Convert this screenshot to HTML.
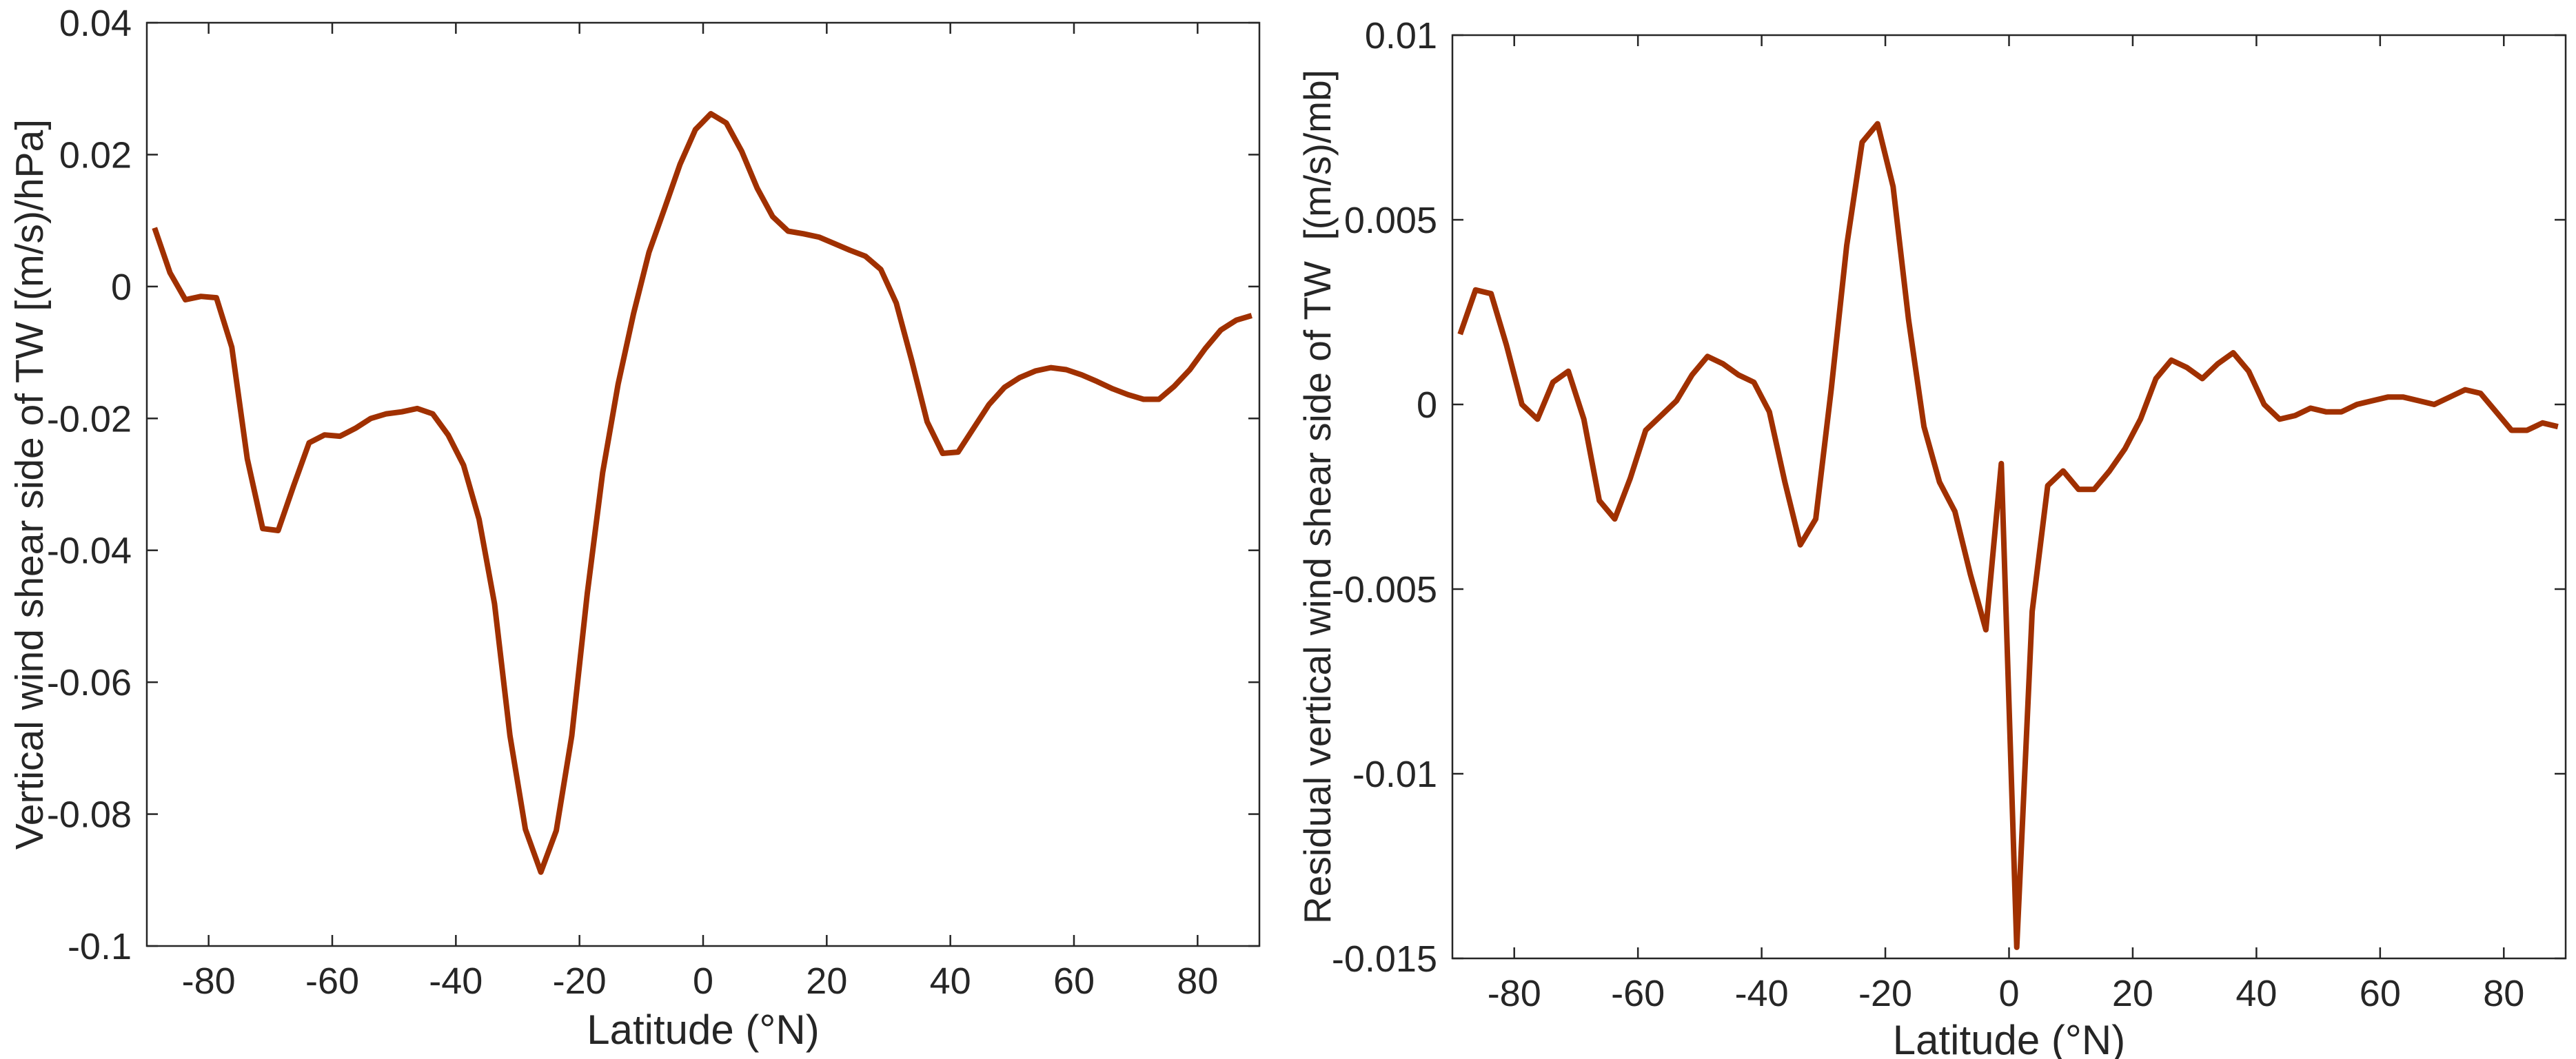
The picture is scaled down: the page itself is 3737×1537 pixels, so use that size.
<!DOCTYPE html>
<html><head><meta charset="utf-8"><style>
html,body{margin:0;padding:0;background:#fff;}
svg{display:block;font-family:"Liberation Sans",Arial,sans-serif;}
</style></head><body>
<svg id="chart" width="3737" height="1537" viewBox="0 0 3737 1537" xmlns="http://www.w3.org/2000/svg"></svg>
<script>
const lats = [-88.75,-86.25,-83.75,-81.25,-78.75,-76.25,-73.75,-71.25,-68.75,-66.25,-63.75,-61.25,-58.75,-56.25,-53.75,-51.25,-48.75,-46.25,-43.75,-41.25,-38.75,-36.25,-33.75,-31.25,-28.75,-26.25,-23.75,-21.25,-18.75,-16.25,-13.75,-11.25,-8.75,-6.25,-3.75,-1.25,1.25,3.75,6.25,8.75,11.25,13.75,16.25,18.75,21.25,23.75,26.25,28.75,31.25,33.75,36.25,38.75,41.25,43.75,46.25,48.75,51.25,53.75,56.25,58.75,61.25,63.75,66.25,68.75,71.25,73.75,76.25,78.75,81.25,83.75,86.25,88.75];
const shearValues = [0.0089,0.0021,-0.0020,-0.0015,-0.0017,-0.0092,-0.0261,-0.0367,-0.0370,-0.0302,-0.0237,-0.0225,-0.0227,-0.0215,-0.0200,-0.0193,-0.0190,-0.0185,-0.0193,-0.0225,-0.0271,-0.0353,-0.0481,-0.0681,-0.0823,-0.0888,-0.0825,-0.0681,-0.0466,-0.0282,-0.0148,-0.0041,0.0052,0.0118,0.0185,0.0238,0.0262,0.0248,0.0205,0.0149,0.0106,0.0084,0.0080,0.0075,0.0065,0.0055,0.0046,0.0026,-0.0025,-0.0112,-0.0205,-0.0253,-0.0251,-0.0215,-0.0179,-0.0153,-0.0138,-0.0128,-0.0123,-0.0126,-0.0134,-0.0144,-0.0155,-0.0164,-0.0171,-0.0171,-0.0151,-0.0126,-0.0094,-0.0066,-0.0051,-0.0044];
const residualValues = [0.0019,0.0031,0.0030,0.0016,0.0000,-0.0004,0.0006,0.0009,-0.0004,-0.0026,-0.0031,-0.0020,-0.0007,-0.0003,0.0001,0.0008,0.0013,0.0011,0.0008,0.0006,-0.0002,-0.0021,-0.0038,-0.0031,0.0004,0.0043,0.0071,0.0076,0.0059,0.0023,-0.0006,-0.0021,-0.0029,-0.0046,-0.0061,-0.0016,-0.0147,-0.0056,-0.0022,-0.0018,-0.0023,-0.0023,-0.0018,-0.0012,-0.0004,0.0007,0.0012,0.0010,0.0007,0.0011,0.0014,0.0009,0.0000,-0.0004,-0.0003,-0.0001,-0.0002,-0.0002,0.0000,0.0001,0.0002,0.0002,0.0001,0.0000,0.0002,0.0004,0.0003,-0.0002,-0.0007,-0.0007,-0.0005,-0.0006];
const xTicks = [-80,-60,-40,-20,0,20,40,60,80];
const yTicksLeft = [0.04,0.02,0,-0.02,-0.04,-0.06,-0.08,-0.1];
const yLabelsLeft = ["0.04","0.02","0","-0.02","-0.04","-0.06","-0.08","-0.1"];
const yTicksRight = [0.01,0.005,0,-0.005,-0.01,-0.015];
const yLabelsRight = ["0.01","0.005","0","-0.005","-0.01","-0.015"];

const NS="http://www.w3.org/2000/svg";
const svg=document.getElementById('chart');
function mk(tag,attrs,parent){const e=document.createElementNS(NS,tag);for(const k in attrs)e.setAttribute(k,attrs[k]);(parent||svg).appendChild(e);return e;}

function panel(cfg){
  const g=mk('g',{});
  
  
  const L=cfg.left,R=cfg.right,T=cfg.top,B=cfg.bottom;
  const xs=v=>L+(v+90)/180*(R-L);
  const ys=v=>T+(cfg.ymax-v)/(cfg.ymax-cfg.ymin)*(B-T);
  let d='';
  cfg.vals.forEach((v,i)=>{d+=(i?'L':'M')+xs(lats[i]).toFixed(1)+','+ys(v).toFixed(1);});
  const p=mk('path',{d:d,fill:'none',stroke:'#a03000','stroke-width':8,'stroke-linejoin':'round'},g);
  
  
  const box=mk('rect',{x:L,y:T,width:R-L,height:B-T,fill:'none',stroke:'#262626','stroke-width':2.5},g);
  
  
  xTicks.forEach(t=>{
    const x=xs(t);
    mk('line',{x1:x,x2:x,y1:B,y2:B-16,stroke:'#262626','stroke-width':2.5},g);
    mk('line',{x1:x,x2:x,y1:T,y2:T+16,stroke:'#262626','stroke-width':2.5},g);
    const tx=mk('text',{x:x,y:B+69,'text-anchor':'middle','font-size':54,fill:'#262626'},g);
    tx.textContent=String(t);
    
    
  });
  cfg.yt.forEach((t,i)=>{
    const y=ys(t);
    mk('line',{x1:L,x2:L+16,y1:y,y2:y,stroke:'#262626','stroke-width':2.5},g);
    mk('line',{x1:R,x2:R-16,y1:y,y2:y,stroke:'#262626','stroke-width':2.5},g);
    const tx=mk('text',{x:L-22,y:y+19,'text-anchor':'end','font-size':54,fill:'#262626'},g);
    tx.textContent=cfg.yl[i];
    
    
  });
  const xl=mk('text',{x:(L+R)/2,y:cfg.xlabY,'text-anchor':'middle','font-size':60,fill:'#262626'},g);
  xl.textContent='Latitude (°N)';
  
  
  const yl=mk('text',{x:0,y:0,'text-anchor':'middle','font-size':cfg.yfs,fill:'#262626','xml:space':'preserve',style:'white-space:pre',transform:'translate('+cfg.ylabX+','+((T+B)/2)+') rotate(-90)'},g);
  yl.textContent=cfg.ytitle;
  
  
}
panel({name:'left-panel',left:213,right:1827,top:33,bottom:1373,ymax:0.04,ymin:-0.1,vals:shearValues,yt:yTicksLeft,yl:yLabelsLeft,xlabY:1515,ylabX:62,yfs:57,ytitle:'Vertical wind shear side of TW [(m/s)/hPa]'});
panel({name:'right-panel',left:2107,right:3722,top:51,bottom:1391,ymax:0.01,ymin:-0.015,vals:residualValues,yt:yTicksRight,yl:yLabelsRight,xlabY:1530,ylabX:1930,yfs:55,ytitle:'Residual vertical wind shear side of TW  [(m/s)/mb]'});
</script>
</body></html>
